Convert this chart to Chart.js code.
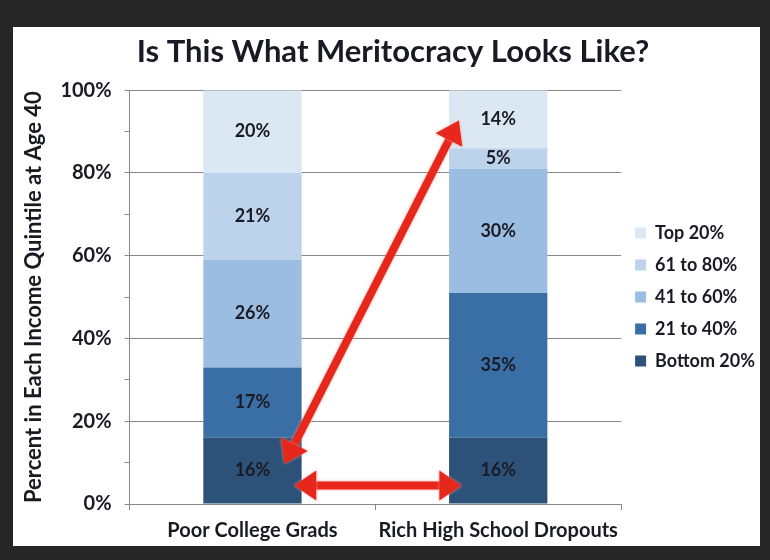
<!DOCTYPE html>
<html>
<head>
<meta charset="utf-8">
<script src="https://cdn.jsdelivr.net/npm/chart.js@4.4.1/dist/chart.umd.min.js"></script>
<style>
  html, body { margin: 0; padding: 0; background: #262626; }
  body { width: 770px; height: 560px; position: relative; overflow: hidden; }
  #frame { position: absolute; left: 13px; top: 27px; width: 747px; height: 519px; background: #fff; }
</style>
</head>
<body>
<div id="frame"><canvas id="meritChart" width="747" height="519"></canvas></div>
<script>
const categories = ["Poor College Grads", "Rich High School Dropouts"];
const quintileLabels = ["Bottom 20%", "21 to 40%", "41 to 60%", "61 to 80%", "Top 20%"];
const bottom20 = [16, 16];
const q21to40 = [17, 35];
const q41to60 = [26, 30];
const q61to80 = [21, 5];
const top20 = [20, 14];
const quintileColors = ["#2d5279", "#3a6fa5", "#9bbde2", "#bdd3eb", "#dce7f4"];
// arrows: [category from, value from, category to, value to]
const arrowFrom = [[0.13, 9.7], [0.17, 4.5]];
const arrowTo = [[0.84, 92.7], [0.85, 4.5]];

const font = "Lato, 'Open Sans', sans-serif";
const textColor = "#1a1a24";
const axisGray = "#888888";

const seriesValues = [bottom20, q21to40, q41to60, q61to80, top20];

const segmentLabels = {
    id: "segmentLabels",
    afterDatasetsDraw(chart) {
        const ctx = chart.ctx;
        ctx.save();
        ctx.font = "bold 18px " + font;
        ctx.fillStyle = textColor;
        ctx.textAlign = "center";
        ctx.textBaseline = "middle";
        chart.data.datasets.forEach((ds, i) => {
            chart.getDatasetMeta(i).data.forEach((bar, j) => {
                const p = bar.getProps(["x", "y", "base"], true);
                ctx.fillText(ds.data[j] + "%", p.x, (p.y + p.base) / 2);
            });
        });
        ctx.restore();
    }
};

function drawArrow(ctx, x1, y1, x2, y2) {
    const ang = Math.atan2(y2 - y1, x2 - x1);
    const head = 22, half = 15;
    const cos = Math.cos(ang), sin = Math.sin(ang);
    ctx.beginPath();
    ctx.moveTo(x1 + cos * (head - 2), y1 + sin * (head - 2));
    ctx.lineTo(x2 - cos * (head - 2), y2 - sin * (head - 2));
    ctx.stroke();
    [[x2, y2, 1], [x1, y1, -1]].forEach(([tx, ty, d]) => {
        const bx = tx - d * cos * head, by = ty - d * sin * head;
        ctx.beginPath();
        ctx.moveTo(tx, ty);
        ctx.lineTo(bx - sin * half, by + cos * half);
        ctx.lineTo(bx + sin * half, by - cos * half);
        ctx.closePath();
        ctx.fill();
    });
}

const arrows = {
    id: "arrows",
    afterDraw(chart) {
        const ctx = chart.ctx;
        const xs = chart.scales.x, ys = chart.scales.y;
        const x0 = xs.getPixelForValue(0), step = xs.getPixelForValue(1) - x0;
        ctx.save();
        ctx.strokeStyle = "#e5271c";
        ctx.fillStyle = "#e5271c";
        ctx.lineWidth = 8;
        ctx.shadowColor = "rgba(255,150,140,0.9)";
        ctx.shadowBlur = 3;
        arrowFrom.forEach((a, i) => {
            const b = arrowTo[i];
            drawArrow(ctx, x0 + a[0] * step, ys.getPixelForValue(a[1]),
                x0 + b[0] * step, ys.getPixelForValue(b[1]));
        });
        ctx.restore();
    }
};

new Chart(document.getElementById("meritChart"), {
    type: "bar",
    data: {
        labels: categories,
        datasets: quintileLabels.map((name, i) => ({
            label: name,
            data: seriesValues[i],
            backgroundColor: quintileColors[i],
            barPercentage: 0.4,
            categoryPercentage: 1
        }))
    },
    options: {
        responsive: false,
        animation: false,
        layout: { padding: { left: 8, right: -5, top: 0, bottom: -6 } },
        plugins: {
            title: {
                display: true,
                text: "Is This What Meritocracy Looks Like?",
                color: textColor,
                font: { family: font, size: 31, weight: "bold" },
                padding: { top: 6, bottom: 20 }
            },
            legend: {
                position: "right",
                fullSize: false,
                reverse: true,
                labels: {
                    color: textColor,
                    font: { family: font, size: 18, weight: "bold" },
                    boxWidth: 11,
                    boxHeight: 11,
                    padding: 14
                }
            },
            tooltip: { enabled: false }
        },
        scales: {
            x: {
                stacked: true,
                grid: { offset: true, drawOnChartArea: false, color: axisGray, tickLength: 6 },
                border: { color: axisGray },
                ticks: {
                    color: textColor,
                    font: { family: font, size: 20, weight: "bold" },
                    padding: 9,
                    autoSkip: false,
                    maxRotation: 0,
                    minRotation: 0
                }
            },
            y: {
                stacked: true,
                min: 0,
                max: 100,
                ticks: {
                    stepSize: 10,
                    autoSkip: false,
                    color: textColor,
                    font: { family: font, size: 20, weight: "bold" },
                    padding: 13,
                    callback: v => (v % 20 === 0 ? v + "%" : "")
                },
                grid: {
                    color: c => (c.tick && c.tick.value % 20 === 0 ? axisGray : "rgba(0,0,0,0)"),
                    tickColor: axisGray,
                    tickLength: 5
                },
                border: { color: axisGray },
                title: {
                    display: true,
                    text: "Percent in Each Income Quintile at Age 40",
                    color: textColor,
                    font: { family: font, size: 22, weight: "bold" },
                    padding: { top: 0, bottom: 0 }
                }
            }
        }
    },
    plugins: [segmentLabels, arrows]
});
</script>
</body>
</html>
